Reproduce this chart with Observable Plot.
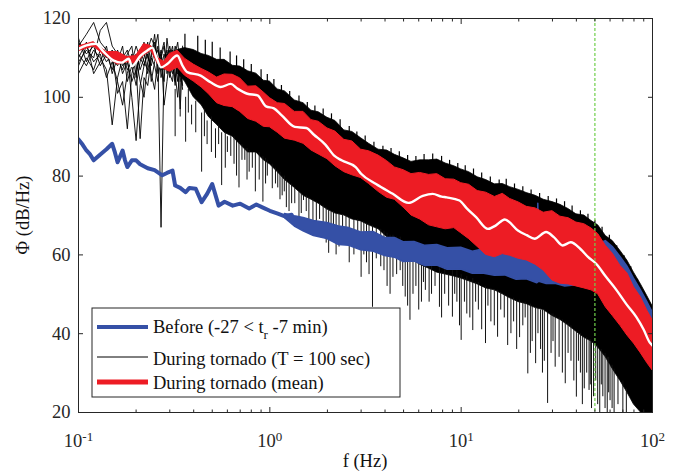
<!DOCTYPE html>
<html><head><meta charset="utf-8">
<script src="https://cdn.jsdelivr.net/npm/d3@7"></script>
<script src="https://cdn.jsdelivr.net/npm/@observablehq/plot@0.6"></script>
<style>body{margin:0;background:#fff} svg, svg text{font-family:"Liberation Serif","Times New Roman","DejaVu Serif",serif !important}</style>
</head><body><div id="chart"></div>
<script>
// ---- data ----
const lowF = [0.10,0.11,0.12,0.13,0.14,0.15,0.16,0.17,0.18,0.19,0.20,0.21,0.22,0.23,0.24,0.25,0.26,0.27,0.28,0.29,0.30,0.31,0.32,0.33,0.34,0.35];
const lineA = [113,116,119,114,112,110,108,111,107,109,113,110,108,112,115,113,109,111,114,106,110,113,108,111,104,109];
const lineB = [109,112,110,117,119,113,111,106,109,104,107,111,114,110,108,112,116,105,109,112,108,106,111,114,108,102];
const lineC = [111,108,112,110,107,93,105,110,112,108,103,109,112,106,110,108,104,111,107,110,113,109,103,110,112,106];
const lineD = [106,110,107,112,109,111,101,104,92,106,110,104,100,109,113,110,112,108,104,115,109,111,106,100,109,111];
const lineE = [114,111,113,108,111,107,112,108,110,100,89,103,108,111,106,102,110,67,108,111,106,104,112,108,97,110];
const lineF = [108,113,109,111,105,109,104,98,106,111,108,89.5,105,103,110,116,108,112,98,104,110,112,109,104,111,107];
const lineG = [115,109,114,112,110,112,109,113,104,108,111,107,110,114,104,109,113,107,111,108,112,108,113,110,106,113];
const lineH = [110,114,106,109,113,106,110,107,111,113,105,112,109,107,111,114,106,110,113,109,105,110,104,112,109,103];

const bandF = [0.33,0.36,0.4,0.44,0.48,0.53,0.58,0.64,0.7,0.77,0.85,0.93,1.0,1.1,1.2,1.35,1.5,1.65,1.8,2.0,2.2,2.45,2.7,3.0,3.3,3.7,4.1,4.5,5.0,5.5,6.1,6.8,7.5,8.3,9.2,10,11,12.2,13.5,15,16.5,18,20,22,24.5,27,30,33,36.5,40,44,48,52,57,62,68,74,80,87,94,100];
const blackHi = [112,112.5,112,111,110.5,109.5,109.5,108,107.8,106.6,106,104.2,104,102,101.5,99.2,98.5,96.6,96.2,94.8,94,91.6,91.2,89.6,88.2,86.7,86.5,85.4,84.5,83.6,84,84,84.2,83.2,82.5,81.7,81,79.7,79,77.9,78,77.2,76.5,75.7,75,74,73.4,72.7,71.6,70.3,70,68.6,67.5,64.8,63.5,61,58.5,55.5,52.5,49.5,47];
const blackLo = [106,104,100,98,95,93,91,90,88,86,86,84,83,81,79,77,75,74,73,71.5,70.5,70,69,68.5,67.5,66.5,64.5,63,61,59,57.5,56.5,55.5,55,54.5,54,53.3,52.5,51.5,51,50,49,48,47.5,46.5,46,44.5,43.5,42,40.5,39,38,36.5,34,31,28,25,22,20,20,20];

const toothF = [0.36,0.42,0.46,0.5,0.55,0.62,0.67,0.73,0.8,0.9,0.97,1.05,1.15,1.27,1.42,1.57,1.72,1.9,2.1,2.33,2.6,2.85,3.15,3.5,3.9,4.3,4.75,5.25,5.8,6.4,7.1,7.9,8.7,9.6,10.5,11.6,12.8,14.2,15.8,17.2,19,21,23.2,25.7,28.5,31.5,34.7,38,42,46,50,54.5,59.5,65,71,77,83.5,90,97];
const toothTop = [116,115.5,114.5,114,112.5,111.5,110.5,109.5,108.3,107,105.8,104.5,103,101.5,100.3,98.7,97.8,97,95.8,94.3,92.6,91.2,90.2,88.6,87.6,87,86.2,85.2,85,85.5,85.6,85,84,83.2,82.6,81.8,80.8,79.8,79,79.2,78,77.3,76.5,75.6,74.8,74.2,73.5,72.4,71.2,70.3,68.8,67,65,62.3,59.8,57,53.8,50.5,47.5];
const toothBase = [111,110.5,110,109.5,108.5,108,107,106,105,104,102.5,101.5,100,98.5,97.5,96,95,94,93,91.5,90,89,88,86.5,85.5,85,84,83.5,83,83,83.2,82.8,82,81,80.5,79.5,78.5,77.5,77,76.5,75.8,75,74.5,73.5,72.5,72,71.5,70.5,69.5,68.5,66.5,64.5,62.5,60,57.5,54.5,51.5,48.5,45.5];

const redF = [0.1,0.12,0.14,0.16,0.18,0.2,0.22,0.24,0.26,0.28,0.3,0.33,0.36,0.4,0.44,0.48,0.53,0.58,0.64,0.7,0.77,0.85,0.93,1.0,1.1,1.2,1.35,1.5,1.65,1.8,2.0,2.2,2.45,2.7,3.0,3.3,3.7,4.1,4.5,5.0,5.5,6.1,6.8,7.5,8.3,9.2,10,11,12.2,13.5,15,16.5,18,20,22,24.5,27,30,33,36.5,40,44,48,52,57,62,68,74,80,87,94,100];
const redHi = [112.9,114,111.5,111.5,110.2,110.5,113.5,113,110,109,111,111.8,109.8,108.3,107.2,106.3,105,105.8,105.7,104.8,102.7,102.8,101.2,99.8,98.5,98.3,96.3,96.3,94.2,93.8,92.1,91.3,89.2,88.8,86.7,86.3,85.2,83.8,82.2,81.5,80.5,80.8,80.3,80.5,79.2,79.1,78.2,77.8,76.2,75.8,74.7,75.5,74.2,73.3,72.2,71.8,70.7,71.1,69.7,69.3,68.2,67.8,66.7,65.3,62.3,60.3,57.2,55.3,51.8,49.2,45.8,43.5];
const redLo = [111.7,112.9,110.3,108.3,108.9,108.5,110.6,111.8,108.5,107.2,106.5,107.5,105.5,104,102.5,100.8,98.5,97.8,97.5,96.3,94.5,93.8,92.5,92.4,91,89.5,89,88.2,86.5,85.5,84.3,82.5,81,80.2,79.5,78,76,74.5,74,72,70,69,67.5,67,66.5,66.8,65.5,64,62,60,59.4,60.2,59.8,59,58.6,57.5,56,53.5,52.7,52.5,52,51.5,51,50,46.7,44.5,42,39.5,37.5,35,32.5,30.7];

const blueLineF = [0.1,0.105,0.11,0.115,0.12,0.13,0.14,0.15,0.155,0.16,0.165,0.17,0.175,0.18,0.19,0.2,0.21,0.216,0.23,0.25,0.274,0.29,0.31,0.32,0.34,0.363,0.38,0.41,0.44,0.47,0.5,0.54,0.58,0.64,0.7,0.78,0.85,0.92,1.0,1.1,1.2,1.3];
const blueLineV = [89.3,88,86.5,85.5,84,85.5,86.8,88.2,86,83.5,85,86.5,84,82.3,84,84,83,82.7,82,81.5,80.2,80.8,81.4,77.6,77,75.9,77,76.8,73.4,75.5,78,72.5,73.5,72.5,73,71.8,72.8,72,71.2,70.5,69.8,70.2];
const blueF = [1.2,1.35,1.5,1.7,2.0,2.3,2.6,3.0,3.5,4.0,4.5,5.0,5.7,6.5,7.5,8.5,10,11.5,13,15,17,19.5,22,25,25.3,25.6,28,31,35,40,44,48,52,57,62,68,74,80,87,94,100];
const blueHi = [70.4,69.8,69.4,68.6,68.1,67.2,66.8,65.7,65.8,64.3,64.3,63.2,63.3,62.3,62.5,61.7,61.8,60.8,61.4,60.5,60.7,59.8,60,59.4,73,59.6,59.1,59.2,58.8,59.4,60,61.5,62.8,63.5,62,59.5,57,54,51,48,45.5];
const blueLo = [69.3,67.2,66,64.8,64,62.5,62.3,61.2,60.8,59.7,59.3,58.2,58.3,57.2,57.3,56.2,56.3,55.2,55.3,54.7,54.8,53.7,53.8,52.8,53,53.2,52.6,52.7,52,52.3,52.5,54,56,57,56,53.5,50.5,47.5,45,42.5,40];

const meanF = [0.1,0.11,0.123,0.135,0.153,0.168,0.183,0.19,0.211,0.229,0.243,0.256,0.27,0.292,0.328,0.35,0.37,0.435,0.49,0.553,0.625,0.677,0.763,0.862,0.955,1.05,1.15,1.35,1.55,1.7,1.95,2.17,2.37,2.81,3.0,3.59,4.39,5.3,6.3,7.1,7.9,8.4,9.8,10.7,12,13.8,15.2,16.9,19.8,22,24.2,27.8,30.5,33.9,37.4,42,46,50.9,57,65,73,82.4,90,96.6,100];
const meanV = [112.3,113.2,113.6,111.6,109.3,108.8,109.8,107.9,110.6,111.9,112.6,110,107.6,108.5,110.6,108,106.4,105.5,103.8,102.6,103.4,102.2,100.9,100.5,97.7,97.2,95.5,92.5,92.2,90.5,88,85.2,84,82.3,80.6,78,75.5,73.2,75,75.5,74.8,74.6,73.8,71.8,69.5,66.6,67.5,69,66.2,65,64.1,65.8,64.5,62.4,63.2,61.5,59.5,57.7,54.5,51,47.5,44.2,41,37.8,37];

const spikeF   = [0.32,0.363,0.39,0.44,0.47,0.52,0.56,0.6,0.65,0.69,0.74,0.78,0.88,0.92,0.97,1.03,1.1,1.16,1.22,1.3,1.42,1.5,1.6,1.75,1.9,2.03,2.15,2.3,2.5,2.75,3.0,3.2,3.44,3.8,4.1,4.4,4.8,5.1,5.4,5.8,6.2,6.5,7.0,7.7,8.2,9.0,9.5,10.0,10.7,11.5,12.3,13.4,14.3,15.5,16.8,18.2,19.5,21,22.3,23.5,24.5,26,27.2,28.3,29.5,31,32.5,35,37.5,40,42,44,46.6,48,50.5,53,55,58,60,63,66,70,73];
const spikeTop = [102,100,98,96,94,92,91,90,90,88.5,87,86.5,86,85,84,83,81.5,80,79,78,76,75,74.5,73.5,72.5,71.5,71,70.5,70,69,68.5,68,67.5,66.5,65.5,65,64.5,63.5,63,62.5,61.5,61,60,59,58,56.5,56,55,54.5,54,53,52,51.5,51,50,49,48.5,48,47.5,47,46.5,46,46,45.5,45,44.5,44,43,42,40.5,40,39,38.5,38,37,36,35,34,32,31,29,28,26];
const spikeBot = [90,88.6,93,81,88,84.5,77.6,86,83,77,84,81,79,73.4,80,76.8,77,75,72,73,67,73.8,69,68,65,60.4,64,62,63,60,54.3,58,46.7,57,52,54.3,56,49.3,43.4,52,48,51,50,46.7,50,44.2,48,38.3,45,40.8,46,37.5,43,39.1,44,40,36,42,29.8,38,32.4,36,33,22.3,35,31.5,34,27.3,33,23.9,30,26,25.6,21,28,20,24,20,23,20,22,20,20];
const spike2F   = [0.34,0.375,0.41,0.455,0.495,0.54,0.585,0.625,0.67,0.715,0.76,0.81,0.84,0.95,1.07,1.13,1.19,1.26,1.35,1.46,1.55,1.68,1.82,1.97,2.09,2.22,2.4,2.6,2.88,3.1,3.3,3.6,3.95,4.25,4.6,4.95,5.25,5.6,6.0,6.35,6.8,7.3,7.9,8.6,9.25,9.8,10.4,11.1,11.9,12.8,13.8,14.9,16.1,17.5,18.8,20.2,21.6,23,25.2,26.6,30.2,33.8,36.2,38.8,41,43,45.3,47.3,49.2,51.7,54,56.5,59,61.5];
const spike2Top = [104,102,99,97,95,93,91,90,89,88,87,86,86,84.5,82,81,80,78.5,77,75.5,75,74,73,72,71,70.5,70,69.5,69,68.5,68,67,66,65,64.5,63.5,62,60,58,57.5,57,56,55.5,55,54.5,54,54,53.5,53,52,51.5,51,50.5,49.5,49,48.5,48,47.5,46.5,46,45,43.5,42.5,41,40,39.5,39,38.5,38,37,36,35,34,32];
const spike2Bot = [95,96,91,90,86,88,82,85,80,84,79,82,76,78,78,74,76,71,73,70.5,71,66,69,63,66,60,65,58,62,60,55,59,56,50,55,52,47,50,46,53,48,52,44,47,50,42,48,44,48,41,47,42,46,37,43,39,44,35,40,30,38,30,35,28,33,22,30,27,24,22,27,21,25,21];

const yTicks = [20,40,60,80,100,120];
const xMajor = [0.1,1,10,100];
const xMajorLabel = ["10^-1","10^0","10^1","10^2"];
const xMinor = [0.2,0.3,0.4,0.5,0.6,0.7,0.8,0.9,2,3,4,5,6,7,8,9,20,30,40,50,60,70,80,90];
const cutoffF = [50];

// ---- tables ----
const lowLines = [lineA,lineB,lineC,lineD,lineE,lineF,lineG,lineH].flatMap((vals,s)=>vals.map((v,j)=>({f:lowF[j], v, s})));
const blackBand = bandF.map((f,i)=>({f, hi:blackHi[i], lo:blackLo[i]}));
const teeth = toothF.map((f,i)=>({f, top:toothTop[i], bot:toothBase[i]}));
const redBand = redF.map((f,i)=>({f, hi:redHi[i], lo:redLo[i]}));
const blueLine = blueLineF.map((f,i)=>({f, v:blueLineV[i]}));
const blueBand = blueF.map((f,i)=>({f, hi:blueHi[i], lo:blueLo[i]}));
const meanLine = meanF.map((f,i)=>({f, v:meanV[i]}));
const spikes = spikeF.map((f,i)=>({f, top:spikeTop[i], bot:spikeBot[i]}))
  .concat(spike2F.map((f,i)=>({f, top:spike2Top[i], bot:spike2Bot[i]})));
const labelOf = new Map(xMajor.map((d,i)=>[d, xMajorLabel[i]]));

const BLUE = "#3550a6", RED = "#ed1c24", GREEN = "#6fcf4a", AX = "#262626";
const FONT = '"Liberation Serif", "Times New Roman", serif';

const svg = Plot.plot({
  width: 679, height: 474,
  marginLeft: 78, marginRight: 27, marginTop: 18, marginBottom: 62,
  x: {type: "log", domain: [0.1, 100]},
  y: {domain: [20, 120]},
  style: {fontFamily: FONT, fontSize: "18.5px", color: AX, background: "white"},
  marks: [
    Plot.line(lowLines, {x:"f", y:"v", z:"s", stroke:"black", strokeWidth:0.9, clip:true}),
    Plot.areaY(blackBand, {x:"f", y1:"lo", y2:"hi", fill:"black", stroke:"black", strokeWidth:0.8, clip:true}),
    Plot.ruleX(teeth, {x:"f", y1:"bot", y2:"top", stroke:"black", strokeWidth:1.2, clip:true}),
    Plot.ruleX(spikes, {x:"f", y1:"bot", y2:"top", stroke:"#111", strokeWidth:1, clip:true}),
    Plot.line(blueLine, {x:"f", y:"v", stroke:BLUE, strokeWidth:4, clip:true}),
    Plot.areaY(blueBand, {x:"f", y1:"lo", y2:"hi", fill:BLUE, stroke:BLUE, strokeWidth:1.5, clip:true}),
    Plot.areaY(redBand, {x:"f", y1:"lo", y2:"hi", fill:RED, stroke:RED, strokeWidth:1, clip:true}),
    Plot.line(meanLine, {x:"f", y:"v", stroke:"white", strokeWidth:2.4, curve:"monotone-x", clip:true}),
    Plot.ruleX(cutoffF, {stroke:GREEN, strokeWidth:1.2, strokeDasharray:"3,2"}),
    Plot.frame({stroke:AX, strokeWidth:1}),
    Plot.axisY(yTicks, {anchor:"left", tickSize:-5, tickPadding:13, label:null, stroke:AX}),
    Plot.axisY(yTicks, {anchor:"right", tickSize:-5, tickFormat:()=>"", label:null, stroke:AX}),
    Plot.axisX(xMajor, {anchor:"bottom", tickSize:-5, tickPadding:26, tickFormat:d=>labelOf.get(d), label:null, stroke:AX}),
    Plot.axisX(xMajor, {anchor:"top", tickSize:-5, tickFormat:()=>"", label:null, stroke:AX}),
    Plot.axisX(xMinor, {anchor:"bottom", tickSize:-2.5, tickFormat:()=>"", label:null, stroke:AX}),
    Plot.axisX(xMinor, {anchor:"top", tickSize:-2.5, tickFormat:()=>"", label:null, stroke:AX})
  ]
});

// superscript exponents on the x tick labels
d3.select(svg).selectAll('[aria-label="x-axis tick label"] text').each(function(){
  const t = this.textContent; const parts = t.split("^");
  if (parts.length < 2) return;
  this.textContent = "";
  const s = d3.select(this);
  s.append("tspan").text(parts[0]);
  s.append("tspan").attr("dy","-0.45em").attr("font-size","13px").text(parts[1]);
});

const g = d3.select(svg).append("g").attr("font-family",FONT).attr("fill","#111");
g.append("text").attr("x",365).attr("y",467).attr("text-anchor","middle").attr("font-size","18.5px").text("f (Hz)");
g.append("text").attr("transform","translate(29,215) rotate(-90)").attr("text-anchor","middle").attr("font-size","18.5px").text("Φ (dB/Hz)");

// legend
const lg = g.append("g").attr("font-size","18.5px").attr("text-anchor","start");
lg.append("rect").attr("x",92).attr("y",308).attr("width",308).attr("height",89).attr("fill","white").attr("stroke",AX).attr("stroke-width",1);
lg.append("line").attr("x1",97).attr("x2",148).attr("y1",327).attr("y2",327).attr("stroke",BLUE).attr("stroke-width",4);
lg.append("line").attr("x1",97).attr("x2",148).attr("y1",357).attr("y2",357).attr("stroke","black").attr("stroke-width",1);
lg.append("line").attr("x1",97).attr("x2",148).attr("y1",382).attr("y2",382).attr("stroke",RED).attr("stroke-width",5);
const t1 = lg.append("text").attr("x",153).attr("y",333);
t1.append("tspan").text("Before (-27 < t");
t1.append("tspan").attr("dy",6).attr("font-size","13px").text("r");
t1.append("tspan").attr("dy",-6).text(" -7 min)");
lg.append("text").attr("x",153).attr("y",365).text("During tornado (T = 100 sec)");
lg.append("text").attr("x",153).attr("y",389).text("During tornado (mean)");

document.getElementById("chart").appendChild(svg);
</script>
</body></html>
